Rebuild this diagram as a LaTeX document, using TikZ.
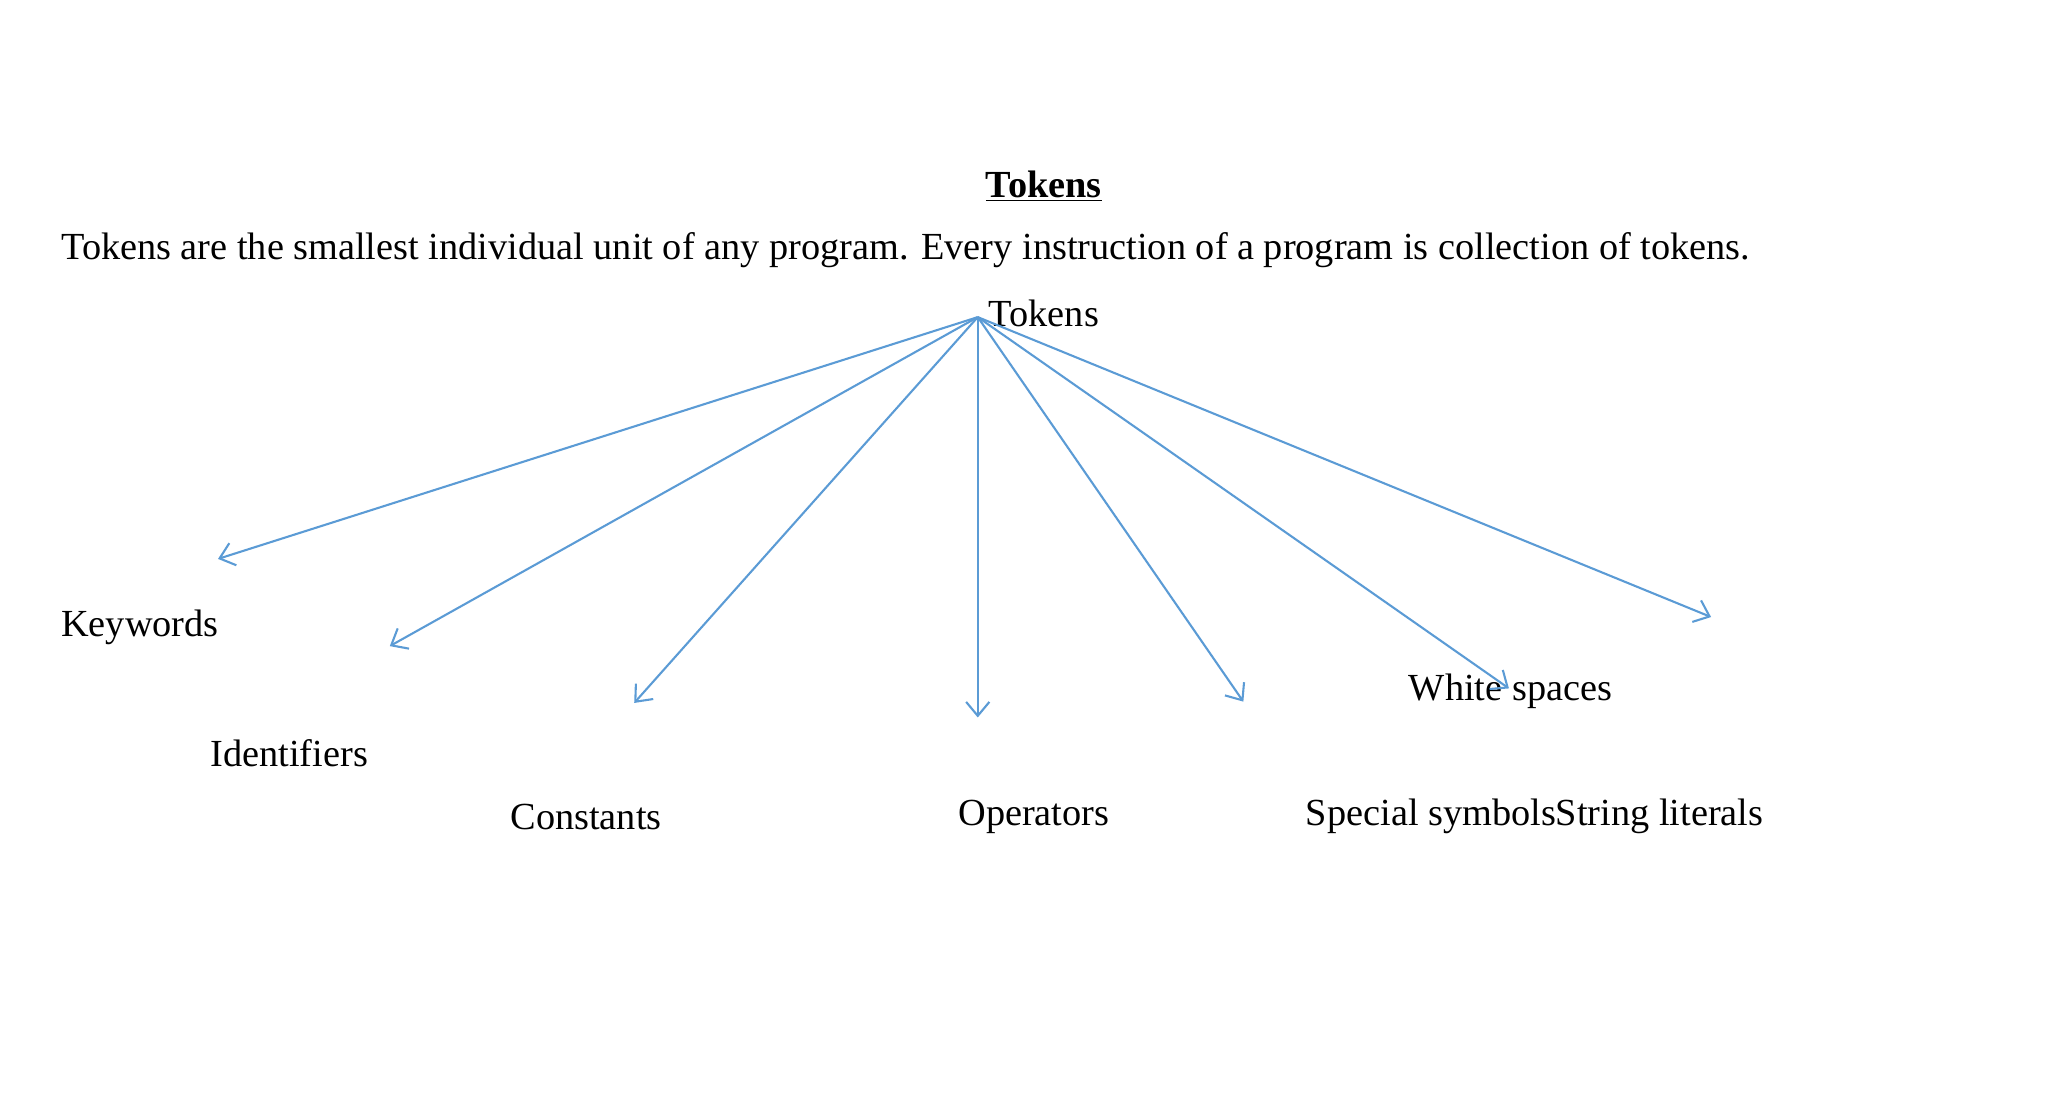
\documentclass[tikz,border=0pt]{standalone}
\usepackage{fontspec}
\setmainfont{Liberation Serif}
\usetikzlibrary{arrows.meta}
\definecolor{arr}{RGB}{91,155,213}
\begin{document}
\begin{tikzpicture}[x=0.02cm,y=-0.02cm,
  lbl/.style={anchor=west,inner sep=0pt,font=\fontsize{16.5pt}{19pt}\selectfont},
  con/.style={draw=arr,line width=0.9pt,-{Straight Barb[length=6pt,width=10pt]}}]
\useasboundingbox (0,0) rectangle (1550,839);
\node[anchor=center,inner sep=0pt,font=\fontsize{16.5pt}{19pt}\selectfont\bfseries] (title) at (790,141) {\underline{Tokens}};
\node[lbl] (intro) at (46,189) {Tokens are the smallest individual unit of any program. Every instruction of a program is collection of tokens.};
\node[lbl] (tok) at (748,237) {Tokens};
\node[lbl] (kw) at (46,475) {Keywords};
\node[lbl] (id) at (159,570) {Identifiers};
\node[lbl] (cn) at (386,618) {Constants};
\node[lbl] (op) at (725,618) {Operators};
\node[lbl] (ss) at (988,618) {Special symbolsString literals};
\node[lbl] (ws) at (1066,523) {White spaces};
\coordinate (hub) at (740,240);
\coordinate (e1) at (165,423);
\coordinate (e2) at (295,489);
\coordinate (e3) at (480,532);
\coordinate (e4) at (740,543);
\coordinate (e5) at (941,531);
\coordinate (e6) at (1142,521);
\coordinate (e7) at (1295,467);
\foreach \e in {e1,e2,e3,e4,e5,e6,e7} \draw[con] (hub) -- (\e);
\end{tikzpicture}
\end{document}
